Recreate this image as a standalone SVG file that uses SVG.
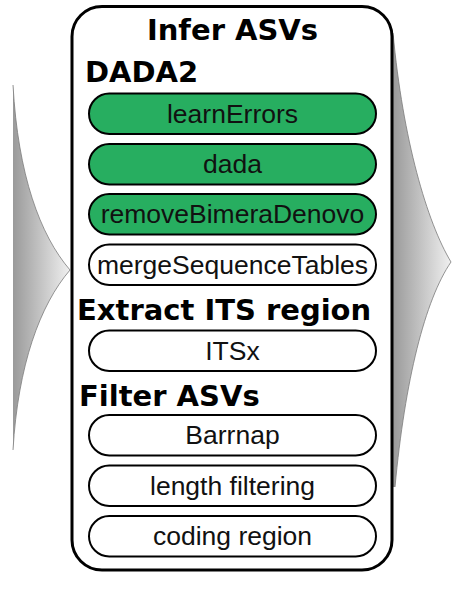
<svg xmlns="http://www.w3.org/2000/svg" width="452" height="593" viewBox="0 0 452 593">
  <style>
    .frame { fill: #ffffff; stroke: #000000; stroke-width: 3; }
    .step { fill: #ffffff; stroke: #000000; stroke-width: 2; }
    .step.done { fill: #27ae60; }
    .label { font-family: "Liberation Sans", Arial, sans-serif; font-size: 26.5px; fill: #111111; text-anchor: middle; }
    .heading { font-family: "DejaVu Sans", "Liberation Sans", sans-serif; font-weight: bold; font-size: 29px; fill: #000000; }
    .edge { fill: none; stroke: #7a7a7a; stroke-width: 0.8; }
  </style>
  <defs>
    <linearGradient id="fadeLeft" gradientUnits="userSpaceOnUse" x1="13" y1="0" x2="70" y2="0">
      <stop offset="0" stop-color="#9a9a9a"/>
      <stop offset="1" stop-color="#f0f0f0"/>
    </linearGradient>
    <linearGradient id="fadeRight" gradientUnits="userSpaceOnUse" x1="393" y1="0" x2="451" y2="0">
      <stop offset="0" stop-color="#9a9a9a"/>
      <stop offset="1" stop-color="#f0f0f0"/>
    </linearGradient>
  </defs>

  <!-- tapered side fans -->
  <g id="fans">
    <path d="M13,85 C18,175 40,235 70,270 C40,305 18,365 13,450 Z" fill="url(#fadeLeft)"/>
    <path class="edge" d="M13,85 C18,175 40,235 70,270 C40,305 18,365 13,450"/>
    <path d="M393,33 C403,140 427,222 451,262 C425,300 405,380 395,487 L393,487 Z" fill="url(#fadeRight)"/>
    <path class="edge" d="M393,33 C403,140 427,222 451,262 C425,300 405,380 395,487"/>
  </g>

  <!-- outer panel -->
  <g id="infer-asvs">
    <rect class="frame" x="72" y="6.5" width="320" height="563.5" rx="30" ry="30"/>
    <text class="heading" x="232.5" y="40" text-anchor="middle">Infer ASVs</text>
  </g>

  <g id="dada2">
    <text class="heading" x="85" y="82">DADA2</text>
  </g>
  <g id="learnErrors">
    <rect class="step done" x="89" y="93.5" width="287" height="40.5" rx="20.25"/>
    <text class="label" x="232.5" y="122.9">learnErrors</text>
  </g>
  <g id="dada">
    <rect class="step done" x="89" y="144" width="287" height="40.5" rx="20.25"/>
    <text class="label" x="232.5" y="173.4">dada</text>
  </g>
  <g id="removeBimeraDenovo">
    <rect class="step done" x="89" y="194" width="287" height="40.5" rx="20.25"/>
    <text class="label" x="232.5" y="223.4">removeBimeraDenovo</text>
  </g>
  <g id="mergeSequenceTables">
    <rect class="step" x="89" y="244.5" width="287" height="40.5" rx="20.25"/>
    <text class="label" x="232.5" y="273.9">mergeSequenceTables</text>
  </g>

  <g id="extract-its">
    <text class="heading" x="77" y="320">Extract ITS region</text>
  </g>
  <g id="itsx">
    <rect class="step" x="89" y="330.5" width="287" height="40.5" rx="20.25"/>
    <text class="label" x="232.5" y="359.9">ITSx</text>
  </g>

  <g id="filter-asvs">
    <text class="heading" x="79" y="406">Filter ASVs</text>
  </g>
  <g id="barrnap">
    <rect class="step" x="89" y="415" width="287" height="40.5" rx="20.25"/>
    <text class="label" x="232.5" y="444.4">Barrnap</text>
  </g>
  <g id="length-filtering">
    <rect class="step" x="89" y="465.5" width="287" height="40.5" rx="20.25"/>
    <text class="label" x="232.5" y="494.9">length filtering</text>
  </g>
  <g id="coding-region">
    <rect class="step" x="89" y="516" width="287" height="40.5" rx="20.25"/>
    <text class="label" x="232.5" y="545.4">coding region</text>
  </g>
</svg>
